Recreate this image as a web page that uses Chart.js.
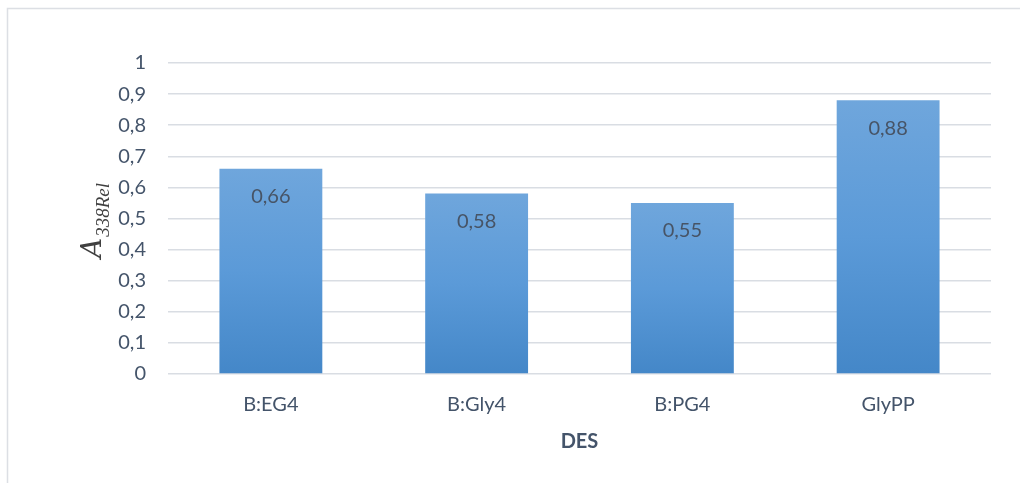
<!DOCTYPE html>
<html>
<head>
<meta charset="utf-8">
<script src="https://cdn.jsdelivr.net/npm/chart.js@4/dist/chart.umd.min.js"></script>
<style>
  html, body { margin: 0; padding: 0; background: #ffffff; }
  #wrap { position: relative; width: 1020px; height: 483px; }
</style>
</head>
<body>
<div id="wrap"><canvas id="grafico"></canvas></div>
<script>
// Datos del gráfico
const categorias = ['B:EG4', 'B:Gly4', 'B:PG4', 'GlyPP'];
const valores = [0.66, 0.58, 0.55, 0.88];
const etiquetasValor = ['0,66', '0,58', '0,55', '0,88'];

const colorTexto = '#44546A';
const colorRejilla = '#d9dde3';
const fuente = 'Lato, "Open Sans", sans-serif';

// Marco exterior del gráfico (como en Excel)
const marcoPlugin = {
    id: 'marco',
    beforeDraw(chart) {
        const ctx = chart.ctx;
        ctx.save();
        ctx.fillStyle = '#ffffff';
        ctx.fillRect(0, 0, chart.width, chart.height);
        ctx.strokeStyle = '#dcdfe4';
        ctx.lineWidth = 1.5;
        ctx.strokeRect(7.5, 8.5, chart.width + 10, chart.height + 10);
        ctx.restore();
    }
};

// Etiquetas de valor dentro de cada barra
const etiquetasPlugin = {
    id: 'etiquetas',
    afterDatasetsDraw(chart) {
        const ctx = chart.ctx;
        const meta = chart.getDatasetMeta(0);
        ctx.save();
        ctx.font = '20px ' + fuente;
        ctx.fillStyle = '#475466';
        ctx.textAlign = 'center';
        ctx.textBaseline = 'middle';
        meta.data.forEach((bar, i) => {
            ctx.fillText(etiquetasValor[i], bar.x, bar.y + 28);
        });
        ctx.restore();
    }
};

// Título del eje Y: A con subíndice 338Rel
const tituloYPlugin = {
    id: 'tituloY',
    afterDraw(chart) {
        const ctx = chart.ctx;
        ctx.save();
        ctx.translate(101, 258);
        ctx.rotate(-Math.PI / 2);
        ctx.fillStyle = '#404040';
        ctx.textBaseline = 'alphabetic';
        ctx.textAlign = 'left';
        ctx.font = 'italic 28px "DejaVu Serif", "Liberation Serif", serif';
        ctx.fillText('A', 0, 0);
        const w = ctx.measureText('A').width;
        ctx.font = 'italic 19px "Liberation Serif", "DejaVu Serif", serif';
        ctx.fillText('338Rel', w + 1, 8);
        ctx.restore();
    }
};

const ctx = document.getElementById('grafico');

new Chart(ctx, {
    type: 'bar',
    data: {
        labels: categorias,
        datasets: [{
            data: valores,
            backgroundColor: (c) => {
                const chart = c.chart;
                if (!chart.chartArea || c.raw === undefined) return '#5b9bd5';
                const y = chart.scales.y;
                const top = y.getPixelForValue(c.raw);
                const bottom = y.getPixelForValue(0);
                const g = chart.ctx.createLinearGradient(0, top, 0, bottom);
                g.addColorStop(0, '#6fa6dc');
                g.addColorStop(0.5, '#5b9ad8');
                g.addColorStop(1, '#4487c8');
                return g;
            },
            borderWidth: 0,
            barPercentage: 0.5,
            categoryPercentage: 1.0
        }]
    },
    options: {
        responsive: true,
        maintainAspectRatio: false,
        animation: false,
        layout: {
            padding: { top: 63, right: 29, bottom: 0, left: 0 }
        },
        plugins: {
            legend: { display: false },
            tooltip: { enabled: false }
        },
        scales: {
            y: {
                min: 0,
                max: 1,
                afterFit(scale) { scale.width = 168; },
                border: { display: false },
                grid: {
                    color: colorRejilla,
                    lineWidth: 1.5,
                    drawTicks: false
                },
                ticks: {
                    stepSize: 0.1,
                    padding: 22,
                    color: colorTexto,
                    font: { family: fuente, size: 20 },
                    callback: (v) => {
                        const r = Math.round(v * 10) / 10;
                        return String(r).replace('.', ',');
                    }
                }
            },
            x: {
                afterFit(scale) { scale.height = 109; },
                border: { display: false },
                grid: { display: false, drawTicks: false },
                ticks: {
                    padding: 19,
                    color: colorTexto,
                    font: { family: fuente, size: 20 }
                },
                title: {
                    display: true,
                    text: 'DES',
                    color: colorTexto,
                    padding: { top: 0, bottom: 29 },
                    font: { family: fuente, size: 20, weight: 'bold' }
                }
            }
        }
    },
    plugins: [marcoPlugin, etiquetasPlugin, tituloYPlugin]
});
</script>
</body>
</html>
